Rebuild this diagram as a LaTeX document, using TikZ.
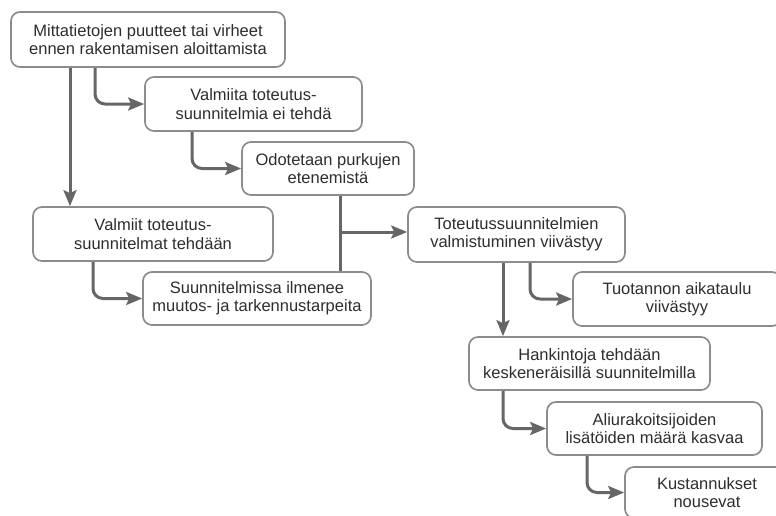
\documentclass[tikz,border=0pt]{standalone}
\usepackage{fontspec}
\setmainfont{Liberation Sans}
\usetikzlibrary{arrows.meta}
\definecolor{boxline}{HTML}{8C8C8C}
\definecolor{linkline}{HTML}{666666}
\definecolor{ink}{HTML}{2E2E2E}
\begin{document}
\begin{tikzpicture}[x=0.5pt,y=-0.5pt,
  stepbox/.style={draw=boxline,line width=0.85pt,rounded corners=4.5pt,fill=white,
    align=center,text=ink,inner sep=0pt,
    font=\fontsize{8.25}{9.2}\selectfont},
  link/.style={draw=linkline,line width=1.5pt,rounded corners=5pt,
    -{Stealth[length=8pt,width=6.5pt,inset=1.5pt]}},
  plain/.style={draw=linkline,line width=1.5pt}]
\useasboundingbox (0,0) rectangle (776,515);
\clip (0,0) rectangle (776,515);
\fill[white] (0,0) rectangle (776,515);

% boxes of the chain
\node[stepbox,minimum width=137pt,minimum height=27.5pt] (b1) at (148,39.5)
  {Mittatietojen puutteet tai virheet\\ennen rakentamisen aloittamista};
\node[stepbox,minimum width=108.5pt,minimum height=27pt] (b2) at (253.5,104)
  {Valmiita toteutus-\\suunnitelmia ei tehdä};
\node[stepbox,minimum width=86pt,minimum height=26.5pt] (b3) at (328,168.5)
  {Odotetaan purkujen\\etenemistä};
\node[stepbox,minimum width=120pt,minimum height=27pt] (b4) at (153,234)
  {Valmiit toteutus-\\suunnitelmat tehdään};
\node[stepbox,minimum width=114pt,minimum height=26.5pt] (b5) at (257,298.5)
  {Suunnitelmissa ilmenee\\muutos- ja tarkennustarpeita};
\node[stepbox,minimum width=108.5pt,minimum height=27.5pt] (b6) at (516.5,234.5)
  {Toteutussuunnitelmien\\valmistuminen viivästyy};
\node[stepbox,minimum width=104pt,minimum height=27pt] (b7) at (677,299)
  {Tuotannon aikataulu\\viivästyy};
\node[stepbox,minimum width=120.5pt,minimum height=26.5pt] (b8) at (589.5,363.5)
  {Hankintoja tehdään\\keskeneräisillä suunnitelmilla};
\node[stepbox,minimum width=107.5pt,minimum height=26.5pt] (b9) at (654.5,428.5)
  {Aliurakoitsijoiden\\lisätöiden määrä kasvaa};
\node[stepbox,minimum width=82pt,minimum height=25.5pt] (b10) at (707,492.5)
  {Kustannukset\\nousevat};

% x positions of the vertical connector runs
\coordinate (x70) at (70,0);
\coordinate (x95) at (95,0);
\coordinate (x192) at (192,0);
\coordinate (x93) at (93,0);
\coordinate (x340) at (340,0);
\coordinate (x503) at (503,0);
\coordinate (x530) at (530,0);
\coordinate (x587) at (587,0);
\coordinate (j) at (340,232);

% connectors
\draw[link] (b1.south -| x70) -- (b4.north -| x70);
\draw[link] (b1.south -| x95) |- (b2.west);
\draw[link] (b2.south -| x192) |- (b3.west);
\draw[link] (b4.south -| x93) |- (b5.west);
\draw[plain] (b3.south -| x340) -- (b5.north -| x340);
\draw[link,rounded corners=0pt] (j) -- (j -| b6.west);
\draw[link] (b6.south -| x503) -- (b8.north -| x503);
\draw[link] (b6.south -| x530) |- (b7.west);
\draw[link] (b8.south -| x503) |- (b9.west);
\draw[link] (b9.south -| x587) |- (b10.west);
\end{tikzpicture}
\end{document}
